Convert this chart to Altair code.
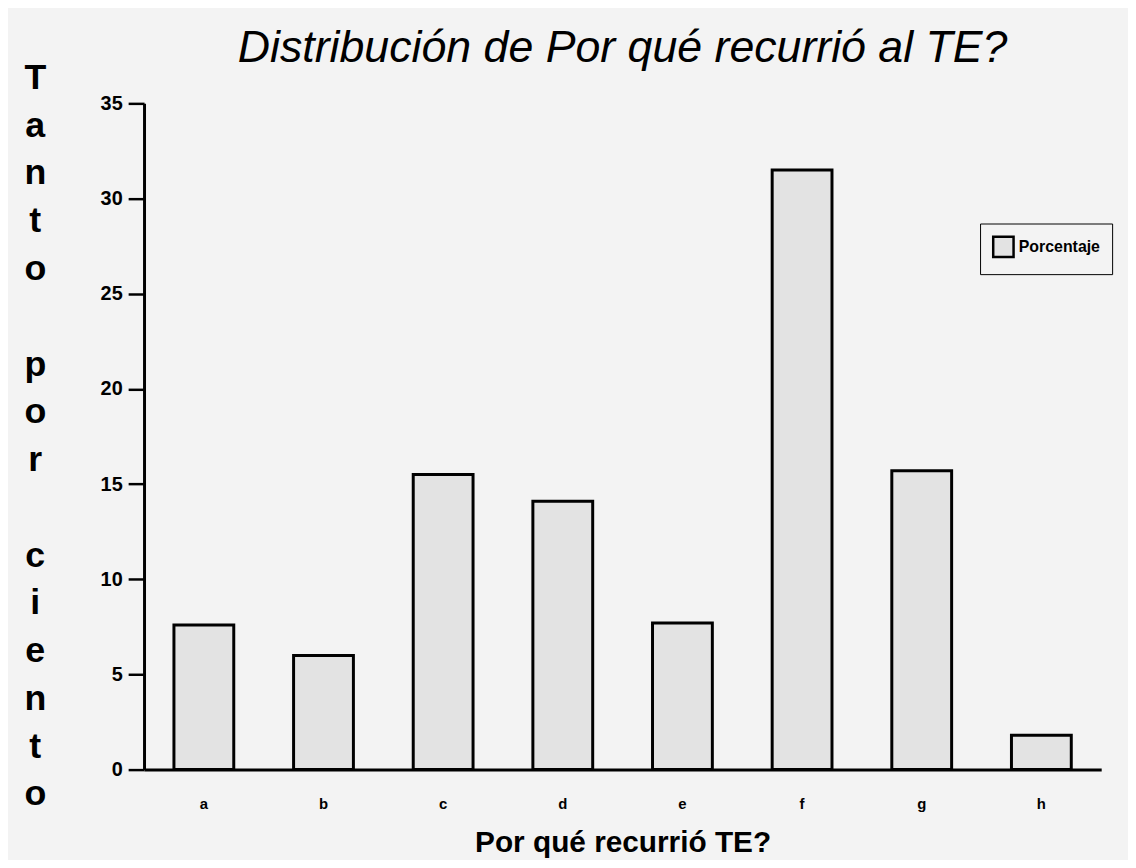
import altair as alt
import pandas as pd

categorias = ["a", "b", "c", "d", "e", "f", "g", "h"]
porcentajes = [7.6, 6.0, 15.5, 14.1, 7.7, 31.5, 15.7, 1.8]
serie = ["Porcentaje"] * len(categorias)
y_ticks = [0, 5, 10, 15, 20, 25, 30, 35]
BLANK = "\u2800"
y_title = ["T", "a", "n", "t", "o", BLANK, "p", "o", "r", BLANK, "c", "i", "e", "n", "t", "o"]

df = pd.DataFrame({"cat": categorias, "val": porcentajes, "serie": serie})

FONT = "Liberation Sans, Arial, sans-serif"

chart = alt.Chart(df).mark_bar(
    stroke="black", strokeWidth=3, strokeJoin="miter"
).encode(
    x=alt.X(
        "cat:N",
        sort=categorias,
        scale=alt.Scale(paddingInner=0.5, paddingOuter=0.25),
        axis=alt.Axis(
            title="Por qué recurrió TE?",
            labelAngle=0,
            ticks=False,
            labelPadding=27,
            labelFont=FONT,
            labelFontWeight="bold",
            labelFontSize=15,
            labelColor="black",
            titleFont=FONT,
            titleFontWeight="bold",
            titleFontSize=30,
            titleColor="black",
            titlePadding=16,
            domainColor="black",
            domainWidth=3,
        ),
    ),
    y=alt.Y(
        "val:Q",
        scale=alt.Scale(domain=[0, 35], nice=False),
        axis=alt.Axis(
            title=y_title,
            values=y_ticks,
            grid=False,
            tickSize=16,
            tickWidth=2.5,
            tickColor="black",
            domainColor="black",
            domainWidth=3,
            labelPadding=6,
            labelFont=FONT,
            labelFontWeight="bold",
            labelFontSize=20,
            labelColor="black",
            titleFont=FONT,
            titleFontWeight="bold",
            titleFontSize=36,
            titleColor="black",
            titleAngle=0,
            titleAlign="center",
            titleBaseline="middle",
            titleLineHeight=48.1,
            titleX=-110,
            titleY=-26,
        ),
    ),
    fill=alt.Fill(
        "serie:N",
        scale=alt.Scale(range=["#e3e3e3"]),
        legend=alt.Legend(
            title=None,
            orient="none",
            legendX=842,
            legendY=121,
            symbolType="square",
            symbolSize=420,
            symbolStrokeColor="black",
            symbolStrokeWidth=2.5,
            labelFont=FONT,
            labelFontWeight="bold",
            labelFontSize=16,
            labelColor="black",
            strokeColor="black",
            padding=12,
            cornerRadius=0,
        ),
    ),
).properties(
    width=964,
    height=671,
    title=alt.TitleParams(
        "Distribución de Por qué recurrió al TE?",
        font=FONT,
        fontSize=45,
        fontStyle="italic",
        fontWeight="normal",
        color="black",
        anchor="middle",
        offset=-11,
    ),
    padding={"left": 137, "top": 93, "right": 27, "bottom": 88},
    autosize=alt.AutoSizeParams(type="none"),
    background="#f3f3f3",
).configure_view(stroke=None)

chart.save("out.html", embed_options={"renderer": "svg", "actions": False})
